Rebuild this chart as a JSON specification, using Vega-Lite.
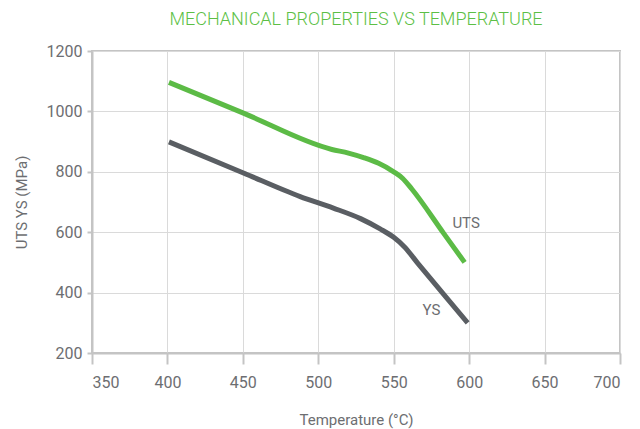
{
  "$schema": "https://vega.github.io/schema/vega-lite/v6.json",
  "autosize": {"type": "none"},
  "width": 528,
  "height": 302,
  "padding": {"left": 92, "top": 51, "right": 20, "bottom": 76},
  "title": {
    "text": "MECHANICAL PROPERTIES VS TEMPERATURE",
    "font": "Roboto",
    "fontSize": 18,
    "fontWeight": 300,
    "color": "#5CBF45",
    "anchor": "middle",
    "offset": 14
  },
  "config": {
    "view": {"stroke": "#c4c4c4", "strokeWidth": 2},
    "axis": {
      "labelFont": "Roboto",
      "labelFontSize": 16,
      "labelColor": "#6d6e71",
      "titleFont": "Roboto",
      "titleFontSize": 15,
      "titleFontWeight": "normal",
      "titleColor": "#6d6e71",
      "domainColor": "#c4c4c4",
      "domainWidth": 2,
      "tickColor": "#c4c4c4",
      "tickWidth": 2,
      "gridColor": "#dadada",
      "gridWidth": 1
    }
  },
  "datasets": {
    "lines": [
      {"temp": 401, "value": 1096, "series": "UTS"},
      {"temp": 450, "value": 995, "series": "UTS"},
      {"temp": 509, "value": 874, "series": "UTS"},
      {"temp": 520, "value": 862, "series": "UTS"},
      {"temp": 530, "value": 847, "series": "UTS"},
      {"temp": 540, "value": 828, "series": "UTS"},
      {"temp": 550, "value": 800, "series": "UTS"},
      {"temp": 556, "value": 778, "series": "UTS"},
      {"temp": 562, "value": 743, "series": "UTS"},
      {"temp": 583, "value": 597, "series": "UTS"},
      {"temp": 597, "value": 500, "series": "UTS"},
      {"temp": 401, "value": 899, "series": "YS"},
      {"temp": 450, "value": 797, "series": "YS"},
      {"temp": 488, "value": 718, "series": "YS"},
      {"temp": 510, "value": 680, "series": "YS"},
      {"temp": 528, "value": 645, "series": "YS"},
      {"temp": 541, "value": 611, "series": "YS"},
      {"temp": 550, "value": 583, "series": "YS"},
      {"temp": 557, "value": 552, "series": "YS"},
      {"temp": 566, "value": 497, "series": "YS"},
      {"temp": 583, "value": 395, "series": "YS"},
      {"temp": 599, "value": 300, "series": "YS"}
    ],
    "labels": [
      {"temp": 598, "value": 631, "series": "UTS"},
      {"temp": 575, "value": 344, "series": "YS"}
    ]
  },
  "layer": [
    {
      "data": {"name": "lines"},
      "mark": {"type": "line", "strokeWidth": 5, "interpolate": "monotone"},
      "encoding": {
        "x": {
          "field": "temp",
          "type": "quantitative",
          "scale": {"domain": [350, 700], "nice": false},
          "axis": {
            "title": "Temperature (°C)",
            "values": [350, 400, 450, 500, 550, 600, 650, 700],
            "tickSize": 11,
            "labelPadding": 10,
            "titlePadding": 22
          }
        },
        "y": {
          "field": "value",
          "type": "quantitative",
          "scale": {"domain": [200, 1200], "nice": false, "zero": false},
          "axis": {
            "title": "UTS YS (MPa)",
            "values": [200, 400, 600, 800, 1000, 1200],
            "format": "d",
            "tickSize": 5,
            "labelPadding": 5,
            "titlePadding": 17
          }
        },
        "color": {
          "field": "series",
          "type": "nominal",
          "scale": {"domain": ["UTS", "YS"], "range": ["#5CBB46", "#5A5E63"]},
          "legend": null
        }
      }
    },
    {
      "data": {"name": "labels"},
      "mark": {"type": "text", "font": "Roboto", "fontSize": 15, "color": "#6d6e71", "align": "center", "baseline": "middle"},
      "encoding": {
        "x": {"field": "temp", "type": "quantitative"},
        "y": {"field": "value", "type": "quantitative"},
        "text": {"field": "series"}
      }
    }
  ]
}
